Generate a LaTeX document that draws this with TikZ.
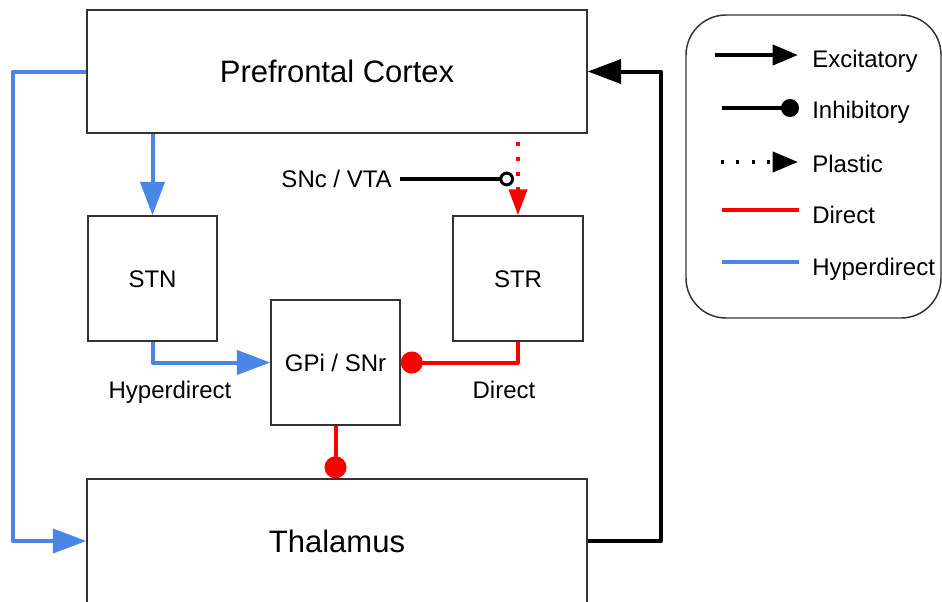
\documentclass[tikz,border=0pt]{standalone}
\usepackage{fontspec}
\setmainfont{Liberation Sans}
\usetikzlibrary{arrows.meta}
\definecolor{hblue}{HTML}{4A86E8}
\definecolor{dred}{HTML}{FF0000}
\definecolor{boxgray}{HTML}{333333}
\begin{document}
\begin{tikzpicture}[x=0.75pt,y=-0.75pt,
  box/.style={draw=boxgray, line width=1.1pt, inner sep=0pt, text depth=0pt, align=center},
  big/.style={font=\fontsize{23.25}{28}\selectfont, text height=16.65pt},
  small/.style={font=\fontsize{18}{22}\selectfont, text height=12.9pt},
  lbl/.style={small, inner sep=0pt, text depth=0pt},
  legtext/.style={font=\fontsize{18}{22}\selectfont, inner sep=0pt, anchor=base west},
  conn/.style={line width=3pt, line join=round},
  exc/.style={-{Triangle[length=25pt,width=18pt]}},
  inh/.style={-{Circle[length=16.5pt]}},
  plastic/.style={dash pattern=on 3pt off 8.25pt, dash phase=5.25pt}
]
\useasboundingbox (0,0) rectangle (942,601);
\fill[white] (0,0) rectangle (942,601);

% boxes
\node[box, big, minimum width=375pt, minimum height=92.25pt] (pfc) at (337,71.5) {Prefrontal Cortex};
\node[box, small, minimum width=96.75pt, minimum height=93.75pt] (stn) at (152.5,278.5) {STN};
\node[box, small, minimum width=97.5pt, minimum height=93.75pt] (str) at (518,278.5) {STR};
\node[box, small, minimum width=96.75pt, minimum height=93.75pt] (gpi) at (335.5,362.5) {GPi / SNr};
\node[box, big, minimum width=375pt, minimum height=93pt] (thal) at (337,541) {Thalamus};

% labels
\node[lbl] (hyplbl) at (170,390) {Hyperdirect};
\node[lbl] (dirlbl) at (504,390) {Direct};
\node[lbl, anchor=east] (snc) at (392,179) {SNc / VTA};

% connectors
\draw[conn, hblue, exc] (pfc.west) -- ++(-73,0) |- (thal.west);
\draw[conn, hblue, exc] (stn.north |- pfc.south) -- (stn.north);
\draw[conn, hblue, exc] (stn.south) |- (gpi.west);
\draw[conn, dred, inh] (str.south) |- (gpi.east);
\draw[conn, dred, inh] (gpi.south) -- (gpi.south |- thal.north);
\draw[conn, black, exc] (thal.east) -- ++(73,0) |- (pfc.east);
\draw[conn, dred, plastic, -{Triangle[length=19.5pt,width=13.5pt]}] (str.north |- pfc.south) -- (str.north);
\coordinate (sncend) at (514,179);
\draw[conn, black, -{Circle[open, length=11pt, line width=2.2pt]}] ([xshift=6pt]snc.east) -- (sncend);

% legend
\node[draw=boxgray, line width=1.1pt, rounded corners=30pt, minimum width=191.25pt, minimum height=227.25pt] (legend) at (813.5,166.5) {};
\coordinate (le1) at (715,55);  \coordinate (le2) at (798,55);
\coordinate (li1) at (722,108); \coordinate (li2) at (799,108);
\coordinate (lp1) at (720.5,162); \coordinate (lp2) at (798,162);
\coordinate (ld1) at (722,210); \coordinate (ld2) at (799,210);
\coordinate (lh1) at (722,262); \coordinate (lh2) at (799,262);
\draw[conn, -{Triangle[length=19pt,width=15pt]}] (le1) -- (le2);
\draw[conn, -{Circle[length=13.5pt]}] (li1) -- (li2);
\draw[conn, dash pattern=on 2.25pt off 9.4pt, -{Triangle[length=19pt,width=15pt]}] (lp1) -- (lp2);
\draw[conn, dred] (ld1) -- (ld2);
\draw[conn, hblue] (lh1) -- (lh2);
\node[legtext] (tex) at (812,67) {Excitatory};
\node[legtext] (tin) at (812,118) {Inhibitory};
\node[legtext] (tpl) at (812,172) {Plastic};
\node[legtext] (tdi) at (812,223) {Direct};
\node[legtext] (thy) at (812,275) {Hyperdirect};
\end{tikzpicture}
\end{document}
